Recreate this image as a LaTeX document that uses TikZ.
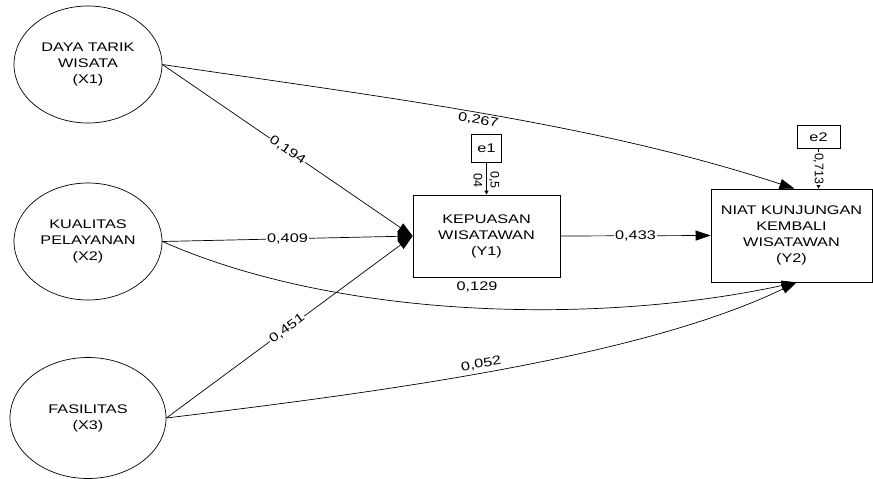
\documentclass[tikz,border=0pt]{standalone}
\usepackage{fontspec}
\setmainfont{Liberation Sans}[FakeStretch=1.3]
\newfontfamily\vertfont{Liberation Sans}
\usetikzlibrary{
  arrows.meta,
  positioning,
  shapes.geometric
}

\begin{document}
\begin{tikzpicture}[
  x=1pt, y=-1pt,
  >={Triangle[length=15pt, width=10pt]},
  line width=0.7pt,
  every node/.style={font=\fontsize{12.5}{16}\selectfont},
  latent/.style={draw, ellipse, inner sep=0pt, align=center},
  construct/.style={draw, rectangle, inner sep=0pt, align=center},
  errbox/.style={draw, rectangle, inner sep=0pt, minimum height=24pt},
  coef/.style={inner sep=1pt},
  errcoef/.style={inner sep=1pt, rotate=-90, font=\vertfont\fontsize{12.5}{13}\selectfont},
  path/.style={->}
]
  \useasboundingbox (0,0) rectangle (873,479);

  % Exogenous constructs
  \node[latent, minimum width=148pt, minimum height=117pt] (X1) at (88,64.5)
    {DAYA TARIK\\WISATA\\(X1)};
  \node[latent, minimum width=148pt, minimum height=117pt] (X2) at (88,241.5)
    {KUALITAS\\PELAYANAN\\(X2)};
  \node[latent, minimum width=156pt, minimum height=121pt] (X3) at (88,418)
    {FASILITAS\\(X3)};

  % Endogenous constructs
  \node[construct, minimum width=147pt, minimum height=82pt] (Y1) at (486.5,236)
    {KEPUASAN\\WISATAWAN\\(Y1)};
  \node[construct, minimum width=161pt, minimum height=93pt] (Y2) at (791.5,235.5)
    {NIAT KUNJUNGAN\\KEMBALI\\WISATAWAN\\(Y2)};

  % Error terms
  \node[errbox, minimum width=30pt, minimum height=28pt, above=32pt of Y1] (e1) {e1};
  \node[errbox, minimum width=43pt, minimum height=23pt, above=40pt of Y2, xshift=27pt] (e2) {e2};

  \draw[-{Triangle[length=4pt, width=4pt]}] (e1) -- (Y1)
    node[errcoef, pos=0.55, align=center] {0,5\\[4pt]04};
  \draw[-{Triangle[length=4pt, width=4pt]}] (e2) -- (e2 |- Y2.north)
    node[errcoef, midway, fill=white] {0,713};

  % Paths to Y1
  \draw[path] (X1.east) -- (Y1.west) node[coef, midway, sloped, fill=white] {0,194};
  \draw[path] (X2.east) -- (Y1.west) node[coef, midway, fill=white] {0,409};
  \draw[path] (X3.east) -- (Y1.west) node[coef, pos=0.49, sloped, fill=white] {0,451};

  % Paths to Y2
  \draw[path] (Y1.east) -- (Y2.west) node[coef, midway, fill=white] {0,433};
  \draw[path] (X1.east) .. controls (382,97) and (595,123) .. ([xshift=3pt]Y2.north)
    node[coef, pos=0.49, sloped, below=1pt] {0,267};
  \draw[path] (X2.east) .. controls (340,320) and (600,325) .. ([xshift=5pt]Y2.south);
  \draw[path] (X3.east) .. controls (380,392) and (640,358) .. ([xshift=5pt]Y2.south)
    node[coef, pos=0.47, sloped, above=2pt] {0,052};
  \node[coef] (c129) at (477,287) {0,129};

\end{tikzpicture}
\end{document}
